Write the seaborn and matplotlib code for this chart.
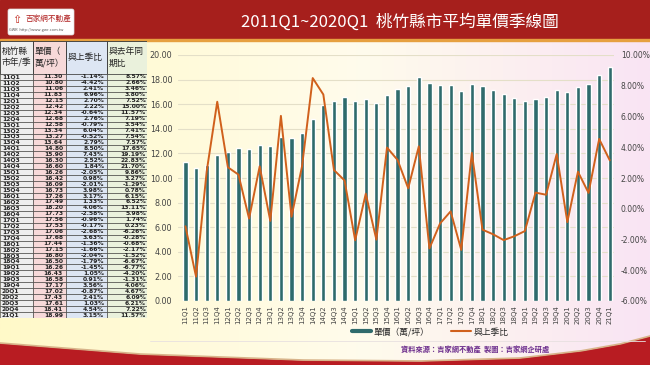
import numpy as np
import pandas as pd
import matplotlib
matplotlib.use("Agg")
import matplotlib.pyplot as plt
from matplotlib.patches import Rectangle, FancyBboxPatch
from matplotlib.lines import Line2D
import seaborn as sns

# данные: 桃竹縣市 平均單價 по кварталам
quarters = ['11Q1', '11Q2', '11Q3', '11Q4', '12Q1', '12Q2', '12Q3', '12Q4',
            '13Q1', '13Q2', '13Q3', '13Q4', '14Q1', '14Q2', '14Q3', '14Q4',
            '15Q1', '15Q2', '15Q3', '15Q4', '16Q1', '16Q2', '16Q3', '16Q4',
            '17Q1', '17Q2', '17Q3', '17Q4', '18Q1', '18Q2', '18Q3', '18Q4',
            '19Q1', '19Q2', '19Q3', '19Q4', '20Q1', '20Q2', '20Q3', '20Q4', '21Q1']
price = [11.30, 10.80, 11.06, 11.83, 12.15, 12.42, 12.34, 12.68,
         12.58, 13.34, 13.27, 13.64, 14.80, 15.90, 16.30, 16.60,
         16.26, 16.42, 16.09, 16.73, 17.26, 17.49, 18.20, 17.73,
         17.56, 17.53, 17.06, 17.68, 17.44, 17.15, 16.80, 16.50,
         16.26, 16.43, 16.58, 17.17, 17.02, 17.43, 17.61, 18.41, 18.99]
qoq = [-1.14, -4.42, 2.41, 6.96, 2.70, 2.22, -0.64, 2.76,
       -0.79, 6.04, -0.52, 2.79, 8.50, 7.43, 2.52, 1.84,
       -2.05, 0.98, -2.01, 3.98, 3.17, 1.33, 4.06, -2.58,
       -0.96, -0.17, -2.68, 3.63, -1.36, -1.66, -2.04, -1.79,
       -1.45, 1.05, 0.91, 3.56, -0.87, 2.41, 1.03, 4.54, 3.15]
yoy = [8.57, 2.66, 3.46, 3.80, 7.52, 15.00, 11.57, 7.19,
       3.54, 7.41, 7.54, 7.57, 17.65, 19.19, 22.83, 21.70,
       9.86, 3.27, -1.29, 0.78, 6.15, 6.52, 13.11, 5.98,
       1.74, 0.23, -6.26, -0.28, -0.68, -2.17, -1.52, -6.67,
       -6.77, -4.20, -1.31, 4.06, 4.67, 6.09, 6.21, 7.22, 11.57]

title = '2011Q1~2020Q1  桃竹縣市平均單價季線圖'
headers = ['桃竹縣\n市年/季', '單價（\n萬/坪）', '與上季比', '與去年同\n期比']

df = pd.DataFrame({'季': quarters, '單價': price, '與上季比': qoq})
df['idx'] = np.arange(len(df))

sns.set_theme(style="white")
plt.rcParams['font.family'] = ['Noto Sans CJK TC', 'DejaVu Sans']

W, H = 650, 365
fig = plt.figure(figsize=(6.5, 3.65), dpi=100)


def px_axes(x0, y0, x1, y1):
    return fig.add_axes([x0 / W, 1 - y1 / H, (x1 - x0) / W, (y1 - y0) / H])


# фон: градиент желтый -> белый -> розовый
bg = px_axes(0, 0, W, H)
xs = np.linspace(0, 1, 300)
c_left = np.array([255, 249, 200]) / 255
c_mid = np.array([255, 252, 236]) / 255
c_right = np.array([249, 228, 244]) / 255
grad = np.zeros((1, 300, 3))
for i, t in enumerate(xs):
    if t < 0.55:
        k = t / 0.55
        grad[0, i] = c_left * (1 - k) + c_mid * k
    else:
        k = (t - 0.55) / 0.45
        grad[0, i] = c_mid * (1 - k) + c_right * k
bg.imshow(grad, aspect='auto', extent=[0, W, H, 0])
bg.set_xlim(0, W)
bg.set_ylim(H, 0)
bg.axis('off')

# шапка
bg.add_patch(Rectangle((0, 0), W, 39, color='#A61F1C', zorder=2))
bg.add_patch(Rectangle((0, 39), W, 2, color='#E6A040', zorder=2))
bg.add_patch(FancyBboxPatch((8, 9), 66, 26, boxstyle='round,pad=0,rounding_size=2',
                            fc='white', ec='#dddddd', lw=0.5, zorder=3))
bg.text(12, 20, '⇧', color='#C0281E', fontsize=8, va='center', zorder=4, family=['DejaVu Sans'])
bg.text(26, 19, '吉家網不動產', color='#B02020', fontsize=5.5, va='center', zorder=4)
bg.text(9, 30, 'GWR  http://www.gwr.com.tw', color='#555555', fontsize=2.8, va='center', zorder=4)
bg.text(400, 22, title, color='white', fontsize=12, ha='center', va='center', zorder=4)

# нижняя красная волна
wx = np.linspace(0, W, 200)
wy = np.interp(wx, [0, 140, 300, 420, 520, 580, 620, 650],
               [344, 355, 361, 362, 359, 352, 345, 337])
bg.fill_between(wx, wy, H, color='#B81C22', zorder=2)
bg.plot(wx, wy - 1, color='#D8B48A', lw=1.2, zorder=2)

# таблица слева
tab = px_axes(0, 41, 147, 318)
tab.set_xlim(0, 147)
tab.set_ylim(277, 0)
tab.axis('off')
col_x = [0, 33, 66, 107, 147]
col_bg = ['#EEEEEE', '#F7D9D9', '#DDE6F3', '#EAF1DC']
head_h = 33
row_h = (277 - head_h) / len(quarters)
for j in range(4):
    tab.add_patch(Rectangle((col_x[j], 0), col_x[j + 1] - col_x[j], head_h,
                            fc=col_bg[j], ec='#333333', lw=0.6))
    tab.text(col_x[j] + 1.5, head_h / 2, headers[j], fontsize=6.3, va='center',
             color='#222222', linespacing=1.3)
for i, q in enumerate(quarters):
    y0 = head_h + i * row_h
    for j in range(4):
        tab.add_patch(Rectangle((col_x[j], y0), col_x[j + 1] - col_x[j], row_h,
                                fc=col_bg[j], ec='#333333', lw=0.4))
    yc = y0 + row_h / 2
    kw = dict(fontsize=4.3, va='center', color='#222222', fontweight='bold', family=['DejaVu Sans'])
    tab.text(2, yc, q, **kw)
    tab.text(col_x[2] - 3, yc, f'{price[i]:.2f}', ha='right', **kw)
    tab.text(col_x[3] - 3, yc, f'{qoq[i]:.2f}%', ha='right', **kw)
    tab.text(col_x[4] - 1, yc, f'{yoy[i]:.2f}%', ha='right', **kw)

# основной график
ax = px_axes(178, 55, 614, 301)
ax.set_facecolor('none')
sns.barplot(data=df, x='季', y='單價', color='#2F6B6C', width=0.4, saturation=1, ax=ax, zorder=3)
ax.set_ylim(0, 20)
ax.set_xlim(-0.7, 40.4)
ax.set_yticks(np.arange(0, 21, 2))
ax.set_yticklabels([f'{v:.2f}' for v in np.arange(0, 21, 2)])
ax.grid(axis='y', color='#E4DFC8', lw=0.8, zorder=0)
ax.tick_params(axis='x', labelrotation=90, labelsize=5, colors='#444444', length=0, pad=3)
ax.tick_params(axis='y', labelsize=5.8, colors='#444444', length=0, pad=4)
for lab in ax.get_xticklabels() + ax.get_yticklabels():
    lab.set_family(['DejaVu Sans'])
ax.set_xlabel('')
ax.set_ylabel('')
for s in ax.spines.values():
    s.set_visible(False)

ax2 = ax.twinx()
sns.lineplot(data=df, x='idx', y='與上季比', color='#D0601C', lw=1.4, ax=ax2, zorder=4)
ax2.set_ylim(-6, 10)
ax2.set_yticks(np.arange(-6, 11, 2))
ax2.set_yticklabels([f'{v:.2f}%' for v in np.arange(-6, 11, 2)])
ax2.tick_params(axis='y', labelsize=5.5, colors='#444444', length=0, pad=5)
for lab in ax2.get_yticklabels():
    lab.set_family(['DejaVu Sans'])
ax2.set_xlabel('')
ax2.set_ylabel('')
ax2.grid(False)
for s in ax2.spines.values():
    s.set_visible(False)

# легенда
handles = [Line2D([], [], color='#2F6B6C', lw=3), Line2D([], [], color='#D0601C', lw=1.5)]
fig.legend(handles, ['單價（萬/坪）', '與上季比'], loc='center', bbox_to_anchor=(430 / W, 1 - 332 / H),
           ncol=2, frameon=False, fontsize=6.3, handlelength=2.2, columnspacing=2.5, handletextpad=0.3,
           borderpad=0.1)

# источник
bg.plot([150, 645], [341, 341], color='#E8E0E0', lw=0.6, zorder=2)
bg.text(475, 349, '資料來源：吉家網不動產  製圖：吉家網企研處', color='#6B2C8C',
        fontsize=5.2, ha='center', va='center', fontweight='bold', zorder=3)

fig.savefig('out.png', dpi=100)
